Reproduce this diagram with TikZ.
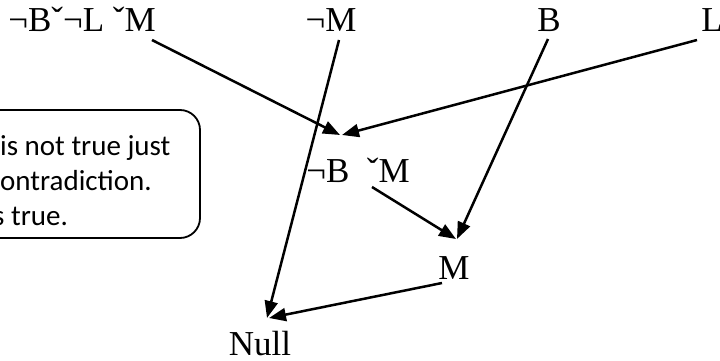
\documentclass[tikz,border=0pt]{standalone}
\usepackage{fontspec}
\setmainfont{Liberation Serif}
\newfontfamily\notefont{Carlito}
\usetikzlibrary{arrows.meta}
\tikzset{
  lbl/.style={anchor=base, inner sep=0pt, font=\fontsize{35}{40}\selectfont},
  notetxt/.style={anchor=base west, inner sep=0pt, font=\notefont\fontsize{29}{35}\selectfont},
  conn/.style={line width=2.5pt, -{Triangle[length=17pt,width=13pt]}},
  notebox/.style={line width=1.8pt, rounded corners=20pt}
}
\begin{document}
\begin{tikzpicture}[x=1pt,y=-1pt]
\useasboundingbox (0,0) rectangle (720,361);
\clip (0,0) rectangle (720,361);
% premise labels
\node[lbl] (p1) at (82,32) {¬Bˇ¬L ˇM};
\node[lbl] (nm) at (331,32) {¬M};
\node[lbl] (b) at (549,32) {B};
\node[lbl] (l) at (712,32) {L};
\node[lbl] (bm) at (358,182) {¬B~~ˇM};
\node[lbl] (m) at (454,279) {M};
\node[lbl] (null) at (260,355) {Null};
% note box
\draw[notebox] (-40,110) rectangle (200,238);
\node[notetxt] (n1) at (0,155) {is not true just};
\node[notetxt] (n2) at (0,190) {ontradiction.};
\node[notetxt] (n3) at (-7,225) {s true.};
% connectors
\draw[conn] ([shift={(70,8)}]p1.base) -- ([shift={(-18,-47)}]bm.base);
\draw[conn] ([shift={(-15,8)}]l.base) -- ([shift={(-16,-47)}]bm.base);
\draw[conn] ([shift={(-1,7)}]b.base) -- ([shift={(3,-40)}]m.base);
\draw[conn] ([shift={(14,5)}]bm.base) -- ([shift={(2,-40)}]m.base);
\draw[conn] ([shift={(8,8)}]nm.base) -- ([shift={(7,-37)}]null.base);
\draw[conn] ([shift={(-12,4)}]m.base) -- ([shift={(9,-37)}]null.base);
\end{tikzpicture}
\end{document}
